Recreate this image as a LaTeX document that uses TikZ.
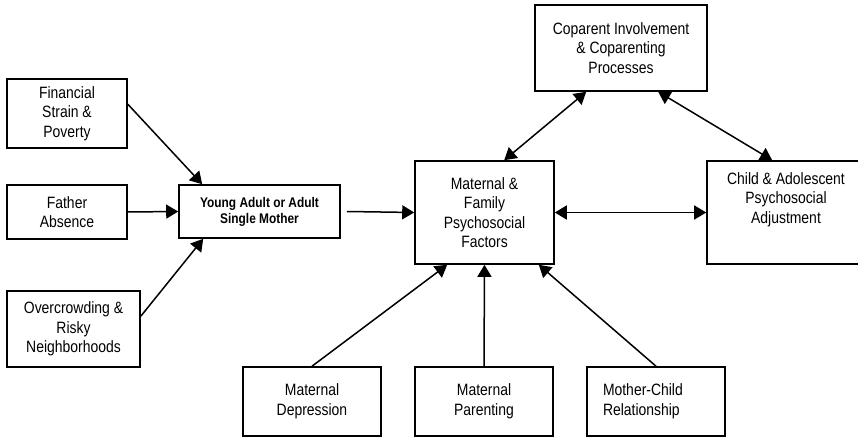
\documentclass[tikz,border=0pt]{standalone}
\usepackage{fontspec}
\setmainfont{Liberation Sans}[FakeStretch=0.85]
\usetikzlibrary{arrows.meta,calc}
\begin{document}
\begin{tikzpicture}[x=1pt,y=-1pt,
  box/.style={draw=black, line width=1.6pt, fill=white, align=center,
    font=\fontsize{16.4}{19.5}\selectfont, inner sep=2pt},
  conn/.style={line width=1.5pt, -{Triangle[length=12pt,width=14pt]}},
  biconn/.style={line width=1.5pt, {Triangle[length=12pt,width=14pt]}-{Triangle[length=12pt,width=14pt]}}]
\useasboundingbox (0,0) rectangle (858,438);
\clip (0,0) rectangle (858,438);
% left column
\node[box, minimum width=120pt, minimum height=69pt] (fin) at (67,113.5) {Financial\\Strain \&\\Poverty};
\node[box, minimum width=120pt, minimum height=54pt] (fa) at (67,212) {Father\\Absence};
\node[box, minimum width=133pt, minimum height=76pt] (ovc) at (73.5,329) {Overcrowding \&\\Risky\\Neighborhoods};
% centre
\node[box, minimum width=161pt, minimum height=53pt, font=\bfseries\fontsize{14}{16}\selectfont] (ya) at (259.5,211.5) {Young Adult or Adult\\Single Mother};
\node[box, minimum width=139pt, minimum height=103pt] (mf) at (484.5,212.5) {Maternal \&\\Family\\Psychosocial\\Factors};
\node[box, minimum width=172pt, minimum height=86pt] (cop) at (621,48) {Coparent Involvement\\\& Coparenting\\Processes};
\node[box, minimum width=158pt, minimum height=103pt] (ch) at (786,212.5) {\parbox[c][80pt][t]{150pt}{\centering Child \& Adolescent\\Psychosocial\\Adjustment}};
% bottom row
\node[box, minimum width=138pt, minimum height=69pt] (md) at (312,401.5) {Maternal\\Depression};
\node[box, minimum width=138pt, minimum height=69pt] (mp) at (484,401.5) {Maternal\\Parenting};
\node[box, minimum width=138pt, minimum height=69pt, align=left, text width=106pt, inner xsep=16pt] (mcr) at (656,401.5) {Mother-Child\\Relationship};
% connectors
\draw[conn] ($(fin.north east)+(0,26)$) -- ($(ya.north west)+(24,0)$);
\draw[conn] (fa.east) -- (ya.west);
\draw[conn] ($(ovc.north east)+(0,26)$) -- ($(ya.south west)+(25,0)$);
\draw[conn] ($(ya.east)+(6,0)$) -- (mf.west);
\draw[biconn] (mf.east) -- (ch.west);
\draw[biconn] ($(mf.north west)+(90,0)$) -- ($(cop.south west)+(52,0)$);
\draw[biconn] ($(cop.south west)+(124,0)$) -- ($(ch.north west)+(66,0)$);
\draw[conn] (md.north) -- ($(mf.south west)+(33,0)$);
\draw[conn] (mp.north) -- (mf.south);
\draw[conn] (mcr.north) -- ($(mf.south east)+(-16,0)$);
\end{tikzpicture}
\end{document}
